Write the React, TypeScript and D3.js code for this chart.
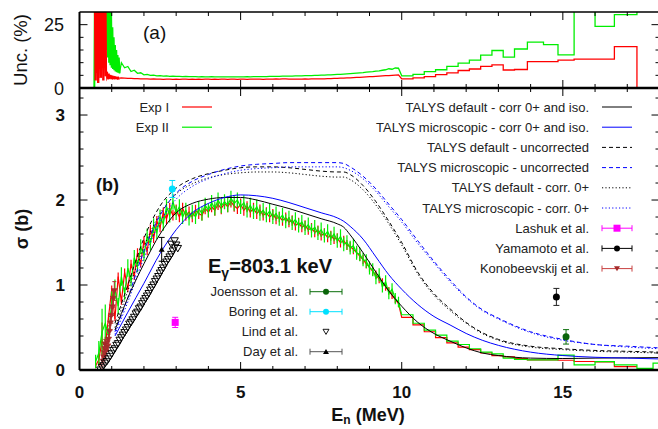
import React from 'react';
import * as d3 from 'd3';

// ---------------- DATA ----------------
const expE = [
  0.5,0.6,0.7,0.8,0.9,1.0,1.1,1.2,1.3,1.4,
  1.5,1.6,1.7,1.8,1.9,2.0,2.1,2.2,2.3,2.4,
  2.5,2.6,2.7,2.8,2.9,3.0,3.1,3.2,3.3,3.4,
  3.5,3.6,3.7,3.8,3.9,4.0,4.1,4.2,4.3,4.4,
  4.5,4.6,4.7,4.8,4.9,5.0,5.1,5.2,5.3,5.4,
  5.5,5.6,5.7,5.8,5.9,6.0,6.1,6.2,6.3,6.4,
  6.5,6.6,6.7,6.8,6.9,7.0,7.1,7.2,7.3,7.4,
  7.5,7.6,7.7,7.8,7.9,8.0,8.1,8.2,8.3,8.4,
  8.5,8.6,8.7,8.8,8.9,9.0,9.1,9.2,9.3,9.4,
  9.5,9.6,9.7,9.8,9.9,
];
const expI = [
  0.05,0.12,0.35,0.28,0.62,0.95,0.60,1.10,0.80,1.15,
  0.95,1.25,1.10,1.38,1.25,1.52,1.40,1.65,1.55,1.75,
  1.68,1.85,1.78,1.90,1.82,1.88,1.80,1.90,1.82,1.86,
  1.80,1.88,1.84,1.82,1.90,1.86,1.92,1.88,1.95,1.90,
  1.96,1.92,1.98,1.93,1.90,1.95,1.88,1.92,1.86,1.90,
  1.84,1.88,1.82,1.85,1.80,1.83,1.78,1.80,1.76,1.79,
  1.74,1.76,1.70,1.73,1.68,1.70,1.65,1.67,1.62,1.64,
  1.58,1.61,1.56,1.58,1.54,1.55,1.50,1.52,1.47,1.45,
  1.42,1.38,1.34,1.30,1.25,1.21,1.16,1.12,1.07,1.03,
  0.98,0.93,0.88,0.83,0.78,
];
const expII = [
  0.10,0.20,0.45,0.55,0.40,0.80,0.95,0.75,1.10,0.90,
  1.20,1.05,1.32,1.22,1.45,1.35,1.58,1.48,1.70,1.62,
  1.80,1.72,1.92,1.82,1.98,1.85,1.92,1.80,1.88,1.78,
  1.86,1.80,1.90,1.84,1.94,1.88,1.97,1.90,2.00,1.93,
  1.98,1.94,2.02,1.96,2.00,1.92,1.97,1.88,1.94,1.86,
  1.92,1.84,1.88,1.82,1.87,1.80,1.84,1.78,1.82,1.75,
  1.79,1.73,1.77,1.70,1.74,1.67,1.71,1.64,1.68,1.61,
  1.65,1.58,1.63,1.55,1.60,1.52,1.57,1.48,1.50,1.44,
  1.46,1.38,1.36,1.30,1.28,1.20,1.18,1.08,1.12,0.98,
  1.04,0.90,0.95,0.84,0.80,
];
// relative uncertainties (%)
const uncI = [
  60,60,60,40,5.5,4.8,4.4,4.2,4.0,3.9,
  3.8,3.8,3.7,3.7,3.6,3.6,3.6,3.5,3.6,3.5,
  3.5,3.4,3.5,3.5,3.4,3.5,3.4,3.5,3.5,3.4,
  3.5,3.4,3.5,3.4,3.5,3.5,3.4,3.5,3.4,3.5,
  3.5,3.4,3.5,3.5,3.4,3.5,3.5,3.4,3.5,3.5,
  3.5,3.5,3.4,3.5,3.5,3.5,3.6,3.5,3.6,3.6,
  3.5,3.5,3.5,3.5,3.5,3.6,3.5,3.6,3.6,3.6,
  3.6,3.6,3.7,3.7,3.8,3.8,3.9,3.9,4.0,4.0,
  4.1,4.2,4.2,4.3,4.4,4.5,4.5,4.6,4.7,4.8,
  4.9,4.9,5.0,5.1,5.2,
];
const uncII = [
  80,70,60,40,22,16,12,13,10,8,
  8.5,6.5,7.0,5.8,6.0,5.2,5.4,5.0,5.1,4.8,
  4.9,4.7,4.8,4.6,4.7,4.6,4.6,4.5,4.6,4.5,
  4.5,4.5,4.4,4.5,4.4,4.4,4.5,4.4,4.4,4.4,
  4.4,4.4,4.4,4.4,4.4,4.4,4.4,4.5,4.4,4.5,
  4.5,4.5,4.5,4.5,4.6,4.6,4.6,4.6,4.7,4.7,
  4.7,4.7,4.8,4.8,4.8,4.9,4.9,4.9,5.0,5.0,
  5.1,5.1,5.2,5.2,5.3,5.4,5.4,5.5,5.6,5.7,
  5.8,5.9,6.0,6.1,6.3,6.4,6.5,6.7,6.8,7.0,
  7.2,7.6,7.4,7.9,7.8,
];
// fine-resolution uncertainties near threshold (%)
const fineE = [
  0.46,0.48,0.50,0.52,0.54,0.56,0.58,0.60,0.62,0.64,
  0.66,0.68,0.70,0.72,0.74,0.76,0.78,0.80,0.82,0.84,
  0.86,0.88,0.90,0.92,0.94,0.96,0.98,1.00,1.02,1.04,
  1.06,1.08,1.10,1.12,1.14,1.16,1.18,1.20,1.22,1.24,
];
const fineUncI = [
  null,95,3,100,6,100,2,100,8,100,
  4,100,10,100,3,100,12,80,4.6,6.5,
  4.4,5.0,4.3,4.8,4.2,4.5,4.1,4.4,4.0,4.3,
  4.0,4.2,3.9,4.1,3.9,4.0,3.8,4.0,3.8,3.9,
];
const fineUncII = [
  0,100,100,100,100,100,100,100,100,100,
  100,100,100,100,100,100,100,100,100,15,
  100,12,70,10,40,9,30,8,24,7.5,
  20,7,17,6.5,15,6.2,13,6,12,5.8,
];
// binned data above 10 MeV
const binEdges = [10.0,10.35,10.7,11.05,11.4,11.75,12.1,12.45,12.8,13.15,13.5,13.9,14.4,14.85,15.35,16.0,16.6,17.3,17.8,18.0];
const binI = [0.62,0.53,0.45,0.38,0.32,0.27,0.24,0.20,0.17,0.155,0.135,0.12,0.12,0.115,0.10,0.095,0.04,null,null];
const binII = [0.65,0.55,0.47,0.41,0.34,0.30,0.25,0.21,0.19,0.14,0.125,0.118,0.118,0.176,0.06,0.098,0.06,0.02,0.08];
const binUncI = [3.6,4.0,4.5,5.3,6.0,6.9,7.5,8.5,9.1,7.1,7.3,10.4,10.4,11.0,11.4,11.4,16.3,null,null];
const binUncII = [4.8,5.4,6.5,7.2,8.5,9.8,11.0,13.0,14.8,12.2,15.4,18.1,17.1,13.1,40,24.3,29,40,40];

// TALYS calculations
const talysE = [1.1,1.5,2.0,2.5,3.0,3.5,4.0,4.5,5.0,5.5,6.0,6.5,7.0,7.5,8.0,8.2,8.4,8.8,9.2,9.6,10.0,10.5,11.0,11.5,12.0,12.5,13.0,14.0,15.0,16.0,17.0,18.0];
const talysDefIso = [0.47,0.85,1.25,1.6,1.85,1.96,2.01,2.03,2.03,2.0,1.95,1.9,1.84,1.78,1.72,1.68,1.59,1.38,1.15,0.93,0.75,0.56,0.43,0.34,0.26,0.2,0.17,0.14,0.135,0.14,0.143,0.146];
const talysMicIso = [0.40,0.68,1.02,1.37,1.65,1.85,1.96,2.03,2.06,2.05,2.02,1.97,1.91,1.85,1.79,1.75,1.69,1.54,1.33,1.12,0.95,0.77,0.63,0.53,0.43,0.35,0.29,0.21,0.17,0.15,0.14,0.13];
const talysDefUnc = [0.55,1.0,1.55,1.93,2.14,2.25,2.31,2.35,2.38,2.39,2.39,2.38,2.36,2.34,2.33,2.33,2.3,2.17,1.98,1.75,1.5,1.15,0.9,0.72,0.56,0.44,0.36,0.28,0.25,0.23,0.22,0.21];
const talysMicUnc = [0.45,0.85,1.4,1.82,2.08,2.22,2.3,2.36,2.4,2.42,2.43,2.44,2.44,2.44,2.44,2.43,2.39,2.28,2.13,1.95,1.77,1.52,1.28,1.06,0.86,0.71,0.61,0.45,0.36,0.3,0.28,0.26];
const talysDef0 = [0.5,0.93,1.45,1.84,2.07,2.19,2.26,2.3,2.32,2.33,2.33,2.32,2.3,2.28,2.27,2.27,2.24,2.12,1.94,1.72,1.47,1.13,0.88,0.7,0.55,0.43,0.35,0.27,0.24,0.22,0.21,0.2];
const talysMic0 = [0.42,0.8,1.32,1.74,2.01,2.16,2.25,2.31,2.35,2.37,2.38,2.39,2.39,2.39,2.39,2.38,2.35,2.25,2.1,1.92,1.74,1.49,1.26,1.04,0.85,0.7,0.6,0.44,0.35,0.3,0.27,0.25];

// other experiments
const lashukE = [2.97], lashukS = [0.56], lashukErr = [0.06];
const boringE = [2.88], boringS = [2.13], boringErr = [0.1];
const yamamotoE = [14.8], yamamotoS = [0.86], yamamotoErr = [0.1];
const joenssonE = [15.1], joenssonS = [0.39], joenssonErr = [0.085];
const dayE = [2.55], dayS = [1.42], dayErr = [0.14];
const konoE = [0.70,0.73,0.75,0.77,0.79,0.80,0.82,0.84,0.86,0.88,0.90,0.93,0.96,0.99,1.02,1.05,1.08];
const konoS = [0.05,0.10,0.15,0.20,0.25,0.30,0.22,0.27,0.32,0.28,0.36,0.45,0.55,0.64,0.74,0.84,0.93];
const konoErr = [0.03,0.03,0.04,0.05,0.05,0.06,0.05,0.05,0.06,0.05,0.06,0.07,0.08,0.09,0.10,0.10,0.11];
const lindE = [0.65,0.7,0.75,0.8,0.85,0.9,0.95,1.0,1.05,1.1,1.15,1.2,1.25,1.3,1.35,1.4,1.45,1.5,1.55,1.6,1.65,1.7,1.75,1.8,1.85,1.9,1.95,2.0,2.05,2.1,2.15,2.2,2.25,2.3,2.35,2.4,2.45,2.5,2.55,2.6,2.65,2.7,2.75,2.8,2.85,2.9,2.95,3.0,3.05,2.85,2.95];
const lindS = [0.0,0.03,0.05,0.08,0.1,0.13,0.16,0.19,0.23,0.25,0.29,0.31,0.35,0.38,0.41,0.44,0.47,0.5,0.54,0.56,0.59,0.62,0.66,0.68,0.72,0.74,0.78,0.81,0.84,0.87,0.9,0.94,0.97,1.0,1.04,1.07,1.1,1.14,1.17,1.2,1.24,1.27,1.3,1.33,1.36,1.4,1.44,1.47,1.43,1.48,1.52];

const xMajor = [0, 5, 10, 15];
const xMinor = [1,2,3,4,6,7,8,9,11,12,13,14,16,17];
const yTopMajor = [0, 25];
const yTopMinor = [5, 10, 15, 20];
const yBotMajor = [0, 1, 2, 3];
const yBotMinor = [0.2,0.4,0.6,0.8,1.2,1.4,1.6,1.8,2.2,2.4,2.6,2.8,3.2];

// ---------------- CHART ----------------
const F = "'Liberation Sans', Arial, Helvetica, sans-serif";
const RED = '#ff0000';
const GREEN = '#00ee00';
const BLUE = '#0000ff';

type P = [number, number | null];

export default function App() {
  const L = 79.5, R = 659.5, T = 12, M = 88, B = 370;
  const x = d3.scaleLinear().domain([0, 18]).range([L, R]);
  const yT = d3.scaleLinear().domain([0, 30]).range([M, T]);
  const yB = d3.scaleLinear().domain([0, 3.318]).range([B, M]);

  const lineB = d3.line<P>().defined(d => d[1] != null).x(d => x(d[0])).y(d => yB(d[1] as number));
  const lineT = d3.line<P>().defined(d => d[1] != null).x(d => x(d[0])).y(d => yT(Math.min(d[1] as number, 40)));

  const steps = (vals: (number | null)[]): P[] => {
    const out: P[] = [];
    vals.forEach((v, i) => { out.push([binEdges[i], v]); out.push([binEdges[i + 1], v]); });
    return out;
  };

  const sigI: P[] = [...expE.map((e, i) => [e, expI[i]] as P), ...steps(binI)];
  const sigII: P[] = [...expE.map((e, i) => [e, expII[i]] as P), ...steps(binII)];

  const fineI: P[] = fineE.map((e, i) => [e, fineUncI[i]] as P);
  const fineII: P[] = fineE.map((e, i) => [e, fineUncII[i]] as P);
  const uncPathI: P[] = [
    fineI[fineI.length - 1],
    ...expE.map((e, i) => [e, uncI[i]] as P).filter(d => d[0] >= 1.3),
    ...steps(binUncI).filter(d => d[1] != null),
    [binEdges[17], 0],
  ];
  const uncPathII: P[] = [
    fineII[fineII.length - 1],
    ...expE.map((e, i) => [e, uncII[i]] as P).filter(d => d[0] >= 1.3),
    ...steps(binUncII),
  ];

  const talys = [
    { v: talysDefUnc, c: '#000', dash: '4,3' },
    { v: talysMicUnc, c: BLUE, dash: '4,3' },
    { v: talysDef0, c: '#000', dash: '1.2,2.2' },
    { v: talysMic0, c: BLUE, dash: '1.2,2.2' },
    { v: talysDefIso, c: '#000', dash: undefined },
    { v: talysMicIso, c: BLUE, dash: undefined },
  ];
  const talysLine = d3.line<P>().x(d => x(d[0])).y(d => yB(d[1] as number)).curve(d3.curveMonotoneX);

  const errBars = (E: number[], S: number[], U: number[], color: string, w = 1) =>
    E.map((e, i) => (
      <line key={i} x1={x(e)} x2={x(e)} y1={yB(Math.max(0, S[i] * (1 - U[i] / 100)))} y2={yB(S[i] * (1 + U[i] / 100))}
        stroke={color} strokeWidth={w} />
    ));

  const vErr = (cx: number, cy0: number, cy1: number, color: string, cap = 3) => (
    <g>
      <line x1={cx} x2={cx} y1={cy0} y2={cy1} stroke={color} strokeWidth={1} />
      <line x1={cx - cap} x2={cx + cap} y1={cy0} y2={cy0} stroke={color} strokeWidth={1} />
      <line x1={cx - cap} x2={cx + cap} y1={cy1} y2={cy1} stroke={color} strokeWidth={1} />
    </g>
  );

  const triDown = (s: number) => `M${-s},${-s * 0.8}L${s},${-s * 0.8}L0,${s * 0.9}Z`;
  const triUp = (s: number) => `M${-s},${s * 0.8}L${s},${s * 0.8}L0,${-s * 0.9}Z`;

  const rowY = (i: number) => 107 + i * 20.2;
  const rightLeg = [
    { t: 'TALYS default - corr 0+ and iso.', c: '#000', dash: undefined as string | undefined },
    { t: 'TALYS microscopic - corr 0+ and iso.', c: BLUE, dash: undefined },
    { t: 'TALYS default - uncorrected', c: '#000', dash: '4,3' },
    { t: 'TALYS microscopic - uncorrected', c: BLUE, dash: '4,3' },
    { t: 'TALYS default - corr. 0+', c: '#000', dash: '1.2,2.2' },
    { t: 'TALYS microscopic - corr. 0+', c: BLUE, dash: '1.2,2.2' },
  ];
  const LX0 = 602, LX1 = 632, LTX = 589;
  const BX0 = 310, BX1 = 342, BTX = 298;
  const bRow = (i: number) => 291.7 + i * 20;

  const legErrLine = (x0: number, x1: number, y: number, c: string) => (
    <g>
      <line x1={x0} x2={x1} y1={y} y2={y} stroke={c} strokeWidth={1} />
      <line x1={x0} x2={x0} y1={y - 3} y2={y + 3} stroke={c} strokeWidth={1} />
      <line x1={x1} x2={x1} y1={y - 3} y2={y + 3} stroke={c} strokeWidth={1} />
    </g>
  );

  const tickLines = (yScale: d3.ScaleLinear<number, number>, top: number, bot: number, yMaj: number[], yMin: number[]) => (
    <g stroke="#000" strokeWidth={1}>
      {xMajor.map(v => <g key={'M' + v}>
        <line x1={x(v)} x2={x(v)} y1={top} y2={top + 8} />
        <line x1={x(v)} x2={x(v)} y1={bot} y2={bot - 8} />
      </g>)}
      {xMinor.map(v => <g key={'m' + v}>
        <line x1={x(v)} x2={x(v)} y1={top} y2={top + 4} />
        <line x1={x(v)} x2={x(v)} y1={bot} y2={bot - 4} />
      </g>)}
      {yMaj.map(v => <g key={'Y' + v}>
        <line x1={L} x2={L + 8} y1={yScale(v)} y2={yScale(v)} />
        <line x1={R} x2={R - 8} y1={yScale(v)} y2={yScale(v)} />
      </g>)}
      {yMin.map(v => <g key={'y' + v}>
        <line x1={L} x2={L + 4} y1={yScale(v)} y2={yScale(v)} />
        <line x1={R} x2={R - 4} y1={yScale(v)} y2={yScale(v)} />
      </g>)}
    </g>
  );

  return (
    <svg width={658} height={429} style={{ position: 'absolute', left: 0, top: 0, background: '#fff' }} fontFamily={F}>
      <defs>
        <clipPath id="cT"><rect x={L} y={T} width={R - L} height={M - T} /></clipPath>
        <clipPath id="cB"><rect x={L} y={M} width={R - L} height={B - M} /></clipPath>
      </defs>
      <rect x={0} y={0} width={658} height={429} fill="#fff" />

      {/* ---------- top panel ---------- */}
      <g clipPath="url(#cT)">
        <path d={lineT(fineII) || ''} fill="none" stroke={GREEN} strokeWidth={2} />
        <path d={lineT(uncPathII) || ''} fill="none" stroke={GREEN} strokeWidth={1.3} />
        <path d={lineT(fineI) || ''} fill="none" stroke={RED} strokeWidth={2.4} />
        <path d={lineT(uncPathI) || ''} fill="none" stroke={RED} strokeWidth={1.3} />
      </g>
      {tickLines(yT, T, M, yTopMajor, yTopMinor)}
      <line x1={L} x2={R} y1={T} y2={T} stroke="#000" strokeWidth={1.5} />
      <line x1={L} x2={L} y1={T} y2={M} stroke="#000" strokeWidth={2} />
      <text x={64} y={yT(25) + 6.5} fontSize={18} textAnchor="end" fill="#111">25</text>
      <text x={64} y={yT(0) + 6.5} fontSize={18} textAnchor="end" fill="#111">0</text>
      <text transform="translate(27,50) rotate(-90)" fontSize={18.5} textAnchor="middle" fill="#111">Unc. (%)</text>
      <text x={143} y={39} fontSize={19} fill="#111">(a)</text>

      {/* ---------- bottom panel ---------- */}
      <g clipPath="url(#cB)">
        {errBars(expE, expI, uncI, RED, 1.2)}
        <path d={lineB(sigI) || ''} fill="none" stroke={RED} strokeWidth={1.2} />
        {errBars(expE, expII, uncII, GREEN, 1.2)}
        <path d={lineB(sigII) || ''} fill="none" stroke={GREEN} strokeWidth={1.2} />

        {talys.map((t, i) => (
          <path key={i} d={talysLine(talysE.map((e, j) => [e, t.v[j]] as P)) || ''} fill="none" stroke={t.c}
            strokeWidth={1} strokeDasharray={t.dash} />
        ))}

        {konoE.map((e, i) => (
          <g key={'k' + i}>
            {vErr(x(e), yB(konoS[i] - konoErr[i]), yB(konoS[i] + konoErr[i]), '#b03030', 2)}
            <path d={triDown(3)} transform={`translate(${x(e)},${yB(konoS[i])})`} fill="#a52a2a" stroke="#a52a2a" strokeWidth={0.5} />
          </g>
        ))}
        {lindE.map((e, i) => (
          <path key={'l' + i} d={triDown(3.8)} transform={`translate(${x(e)},${yB(lindS[i])})`} fill="#fff" fillOpacity={0.25} stroke="#000" strokeWidth={1} />
        ))}
        {dayE.map((e, i) => (
          <g key={'d' + i}>
            {vErr(x(e), yB(dayS[i] - dayErr[i]), yB(dayS[i] + dayErr[i]), '#000', 3)}
            <path d={triUp(3)} transform={`translate(${x(e)},${yB(dayS[i])})`} fill="#000" />
          </g>
        ))}
        {lashukE.map((e, i) => (
          <g key={'la' + i}>
            {vErr(x(e), yB(lashukS[i] - lashukErr[i]), yB(lashukS[i] + lashukErr[i]), '#ff00ff', 3)}
            <rect x={x(e) - 3.5} y={yB(lashukS[i]) - 3.5} width={7} height={7} fill="#ff00ff" />
          </g>
        ))}
        {boringE.map((e, i) => (
          <g key={'b' + i}>
            {vErr(x(e), yB(boringS[i] - boringErr[i]), yB(boringS[i] + boringErr[i]), '#00e0ff', 3)}
            <circle cx={x(e)} cy={yB(boringS[i])} r={3.5} fill="#00e0ff" />
          </g>
        ))}
        {yamamotoE.map((e, i) => (
          <g key={'y' + i}>
            {vErr(x(e), yB(yamamotoS[i] - yamamotoErr[i]), yB(yamamotoS[i] + yamamotoErr[i]), '#222', 3)}
            <circle cx={x(e)} cy={yB(yamamotoS[i])} r={3.5} fill="#000" />
          </g>
        ))}
        {joenssonE.map((e, i) => (
          <g key={'j' + i}>
            {vErr(x(e), yB(joenssonS[i] - joenssonErr[i]), yB(joenssonS[i] + joenssonErr[i]), '#0a6e0a', 3)}
            <circle cx={x(e)} cy={yB(joenssonS[i])} r={3.5} fill="#0a640a" />
          </g>
        ))}
      </g>
      {tickLines(yB, M, B, yBotMajor, yBotMinor)}
      <line x1={L} x2={R} y1={M} y2={M} stroke="#000" strokeWidth={2.5} />
      <line x1={L} x2={R} y1={B} y2={B} stroke="#000" strokeWidth={2.5} />
      <line x1={L} x2={L} y1={M} y2={B} stroke="#000" strokeWidth={2} />

      {yBotMajor.map(v => (
        <text key={v} x={65} y={yB(v) + 6} fontSize={17} fontWeight="bold" textAnchor="end" fill="#111">{v}</text>
      ))}
      {xMajor.map(v => (
        <text key={v} x={x(v)} y={398} fontSize={17} fontWeight="bold" textAnchor="middle" fill="#111">{v}</text>
      ))}
      <text x={368} y={421} fontSize={18} fontWeight="bold" textAnchor="middle" fill="#111">
        E<tspan dy={3} fontSize={12}>n</tspan><tspan dy={-3}> (MeV)</tspan>
      </text>
      <text transform="translate(28,229) rotate(-90)" fontSize={18} fontWeight="bold" textAnchor="middle" fill="#111">σ (b)</text>
      <text x={96} y={191} fontSize={18} fontWeight="bold" fill="#111">(b)</text>
      <text x={208} y={273} fontSize={20} fontWeight="bold" fill="#111">
        E<tspan dy={5} fontSize={14}>γ</tspan><tspan dy={-5}>=803.1 keV</tspan>
      </text>

      {/* legends */}
      <g fontSize={13} fill="#222">
        <text x={169} y={rowY(0) + 4.5} textAnchor="end">Exp I</text>
        <line x1={182} x2={212} y1={rowY(0)} y2={rowY(0)} stroke={RED} strokeWidth={1.2} />
        <text x={169} y={rowY(1) + 4.5} textAnchor="end">Exp II</text>
        <line x1={182} x2={212} y1={rowY(1)} y2={rowY(1)} stroke={GREEN} strokeWidth={1.2} />

        {rightLeg.map((r, i) => (
          <g key={i}>
            <text x={LTX} y={rowY(i) + 4.5} textAnchor="end">{r.t}</text>
            <line x1={LX0} x2={LX1} y1={rowY(i)} y2={rowY(i)} stroke={r.c} strokeWidth={1} strokeDasharray={r.dash} />
          </g>
        ))}
        <text x={LTX} y={rowY(6) + 4.5} textAnchor="end">Lashuk et al.</text>
        {legErrLine(LX0, LX1, rowY(6), '#ff00ff')}
        <rect x={(LX0 + LX1) / 2 - 3.5} y={rowY(6) - 3.5} width={7} height={7} fill="#ff00ff" />
        <text x={LTX} y={rowY(7) + 4.5} textAnchor="end">Yamamoto et al.</text>
        {legErrLine(LX0, LX1, rowY(7), '#000')}
        <circle cx={(LX0 + LX1) / 2} cy={rowY(7)} r={3} fill="#000" />
        <text x={LTX} y={rowY(8) + 4.5} textAnchor="end">Konobeevskij et al.</text>
        {legErrLine(LX0, LX1, rowY(8), '#c84040')}
        <path d={triDown(3)} transform={`translate(${(LX0 + LX1) / 2},${rowY(8)})`} fill="#a52a2a" />

        <text x={BTX} y={bRow(0) + 4.5} textAnchor="end">Joensson et al.</text>
        {legErrLine(BX0, BX1, bRow(0), '#0a6e0a')}
        <circle cx={(BX0 + BX1) / 2} cy={bRow(0)} r={3} fill="#0a640a" />
        <text x={BTX} y={bRow(1) + 4.5} textAnchor="end">Boring  et al.</text>
        {legErrLine(BX0, BX1, bRow(1), '#00e0ff')}
        <circle cx={(BX0 + BX1) / 2} cy={bRow(1)} r={3} fill="#00e0ff" />
        <text x={BTX} y={bRow(2) + 4.5} textAnchor="end">Lind et al.</text>
        <path d={triDown(3)} transform={`translate(${(BX0 + BX1) / 2},${bRow(2)})`} fill="none" stroke="#000" strokeWidth={0.9} />
        <text x={BTX} y={bRow(3) + 4.5} textAnchor="end">Day et al.</text>
        {legErrLine(BX0, BX1, bRow(3), '#555')}
        <path d={triUp(3)} transform={`translate(${(BX0 + BX1) / 2},${bRow(3)})`} fill="#000" />
      </g>
    </svg>
  );
}
